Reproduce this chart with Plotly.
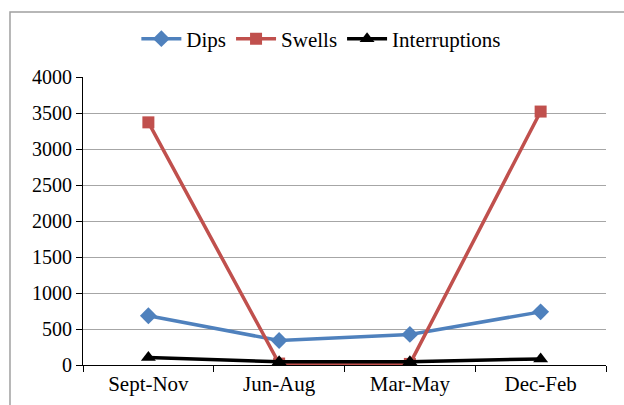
import plotly.graph_objects as go

categories = ["Sept-Nov", "Jun-Aug", "Mar-May", "Dec-Feb"]
dips = [685, 340, 425, 738]
swells = [3370, 20, 15, 3520]
interruptions = [104, 45, 45, 85]

fig = go.Figure()
fig.add_trace(go.Scatter(x=categories, y=dips, name="Dips", mode="lines+markers",
                         line=dict(color="#4F81BD", width=3.5),
                         marker=dict(symbol="diamond", size=13, color="#4F81BD")))
fig.add_trace(go.Scatter(x=categories, y=swells, name="Swells", mode="lines+markers",
                         line=dict(color="#C0504D", width=3.5),
                         marker=dict(symbol="square", size=12, color="#C0504D")))
fig.add_trace(go.Scatter(x=categories, y=interruptions, name="Interruptions", mode="lines+markers",
                         line=dict(color="#000000", width=3.5),
                         marker=dict(symbol="triangle-up", size=13, color="#000000")))

font_family = "'Times New Roman', 'Liberation Serif', serif"
fig.update_layout(
    width=624, height=405,
    margin=dict(l=83, r=18, t=77, b=40, autoexpand=False),
    paper_bgcolor="white", plot_bgcolor="white",
    font=dict(family=font_family, size=20, color="black"),
    showlegend=True,
    legend=dict(orientation="h", x=0.515, xanchor="center", xref="container",
                y=1 - 39 / 405, yanchor="middle", yref="container",
                font=dict(family=font_family, size=21), itemwidth=40,
                bgcolor="rgba(0,0,0,0)"),
    xaxis=dict(type="category", range=[-0.5, 3.5], tickson="boundaries", ticks="outside", ticklen=6,
               tickcolor="black", showline=True, linecolor="black", linewidth=1,
               showgrid=False, tickfont=dict(family=font_family, size=21)),
    yaxis=dict(range=[0, 4000], dtick=500, ticks="outside", ticklen=6, tickcolor="black",
               showline=True, linecolor="black", linewidth=1,
               showgrid=True, gridcolor="#A6A6A6", gridwidth=1.3,
               zeroline=False, tickfont=dict(family=font_family, size=20)),
    shapes=[dict(type="rect", xref="paper", yref="paper",
                 x0=-0.1396, y0=-0.3, x1=1.2, y1=1.2257,
                 line=dict(color="#A0A0A0", width=1.5), fillcolor="rgba(0,0,0,0)", layer="below")],
)

fig.write_html("out.html", config={"displayModeBar": False},
               post_script="document.body.style.margin='0';document.body.style.overflow='hidden';")
